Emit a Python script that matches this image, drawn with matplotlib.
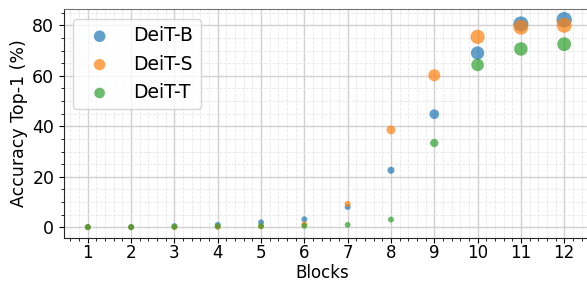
import numpy as np
import matplotlib
matplotlib.use("Agg")
import matplotlib.pyplot as plt

blocks = [1, 2, 3, 4, 5, 6, 7, 8, 9, 10, 11, 12]
deit_b = [0.1, 0.1, 0.5, 1.0, 2.0, 3.2, 8.1, 22.6, 44.8, 69.0, 80.5, 82.2]
deit_s = [0.1, 0.1, 0.2, 0.2, 0.4, 1.2, 9.3, 38.6, 60.2, 75.4, 79.2, 80.0]
deit_t = [0.1, 0.1, 0.2, 0.4, 0.5, 0.6, 1.0, 3.1, 33.4, 64.3, 70.6, 72.5]

series = [("DeiT-B", deit_b, "tab:blue"),
          ("DeiT-S", deit_s, "tab:orange"),
          ("DeiT-T", deit_t, "tab:green")]

fig = plt.figure(figsize=(5.87, 2.83), dpi=100)
ax = fig.add_axes([64 / 587, 45.5 / 283, 524 / 587, 228.2 / 283])

for name, vals, col in series:
    v = np.array(vals)
    ax.scatter(blocks, v, s=18 + v ** 2 / 65, color=col, alpha=0.7,
               edgecolors="none", label=name, zorder=3)

ax.set_xticks(blocks)
ax.set_yticks([0, 20, 40, 60, 80])
ax.minorticks_on()
ax.grid(which="major", color="0.82", linewidth=1.0)
ax.grid(which="minor", color="0.9", linewidth=0.6, linestyle="--")
ax.set_axisbelow(True)
ax.tick_params(labelsize=12.5)
ax.tick_params(axis="x", labelsize=12, pad=1.5)
ax.set_xlabel("Blocks", fontsize=12)
ax.xaxis.set_label_coords(0.492, -0.117)
ax.set_ylabel("Accuracy Top-1 (%)", fontsize=12.5, labelpad=3)
for side in ["top", "right"]:
    ax.spines[side].set_color("0.45")
for side in ["left", "bottom"]:
    ax.spines[side].set_color("0.15")

ax.legend(loc="upper left", fontsize=13.5)

fig.savefig("out.png", dpi=100)
